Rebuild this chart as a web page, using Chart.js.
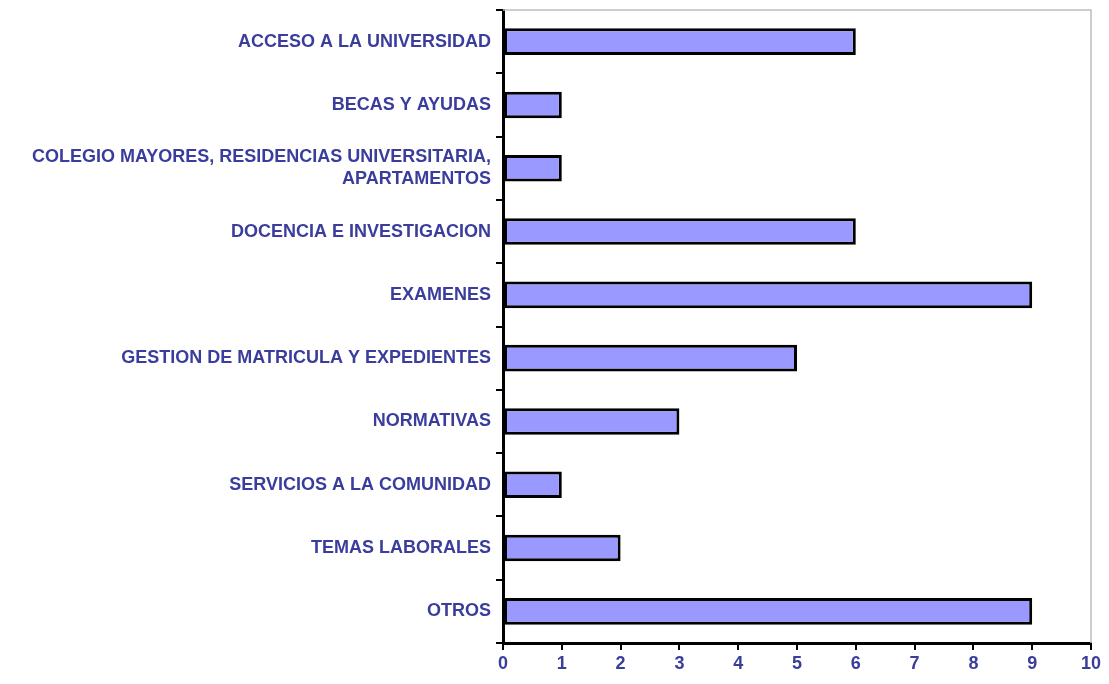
<!DOCTYPE html>
<html>
<head>
<meta charset="utf-8">
<script src="https://cdn.jsdelivr.net/npm/chart.js@4/dist/chart.umd.min.js"></script>
<style>
  html, body { margin: 0; padding: 0; background: #fff; }
  #wrap { width: 1109px; height: 684px; }
</style>
</head>
<body>
<div id="wrap"><canvas id="myChart"></canvas></div>
<script>
// consultas por tema
const categories = [
    'ACCESO A LA UNIVERSIDAD',
    'BECAS Y AYUDAS',
    ['COLEGIO MAYORES, RESIDENCIAS UNIVERSITARIA,', 'APARTAMENTOS'],
    'DOCENCIA E INVESTIGACION',
    'EXAMENES',
    'GESTION DE MATRICULA Y EXPEDIENTES',
    'NORMATIVAS',
    'SERVICIOS A LA COMUNIDAD',
    'TEMAS LABORALES',
    'OTROS'
];
const values = [6, 1, 1, 6, 9, 5, 3, 1, 2, 9];
const xTicks = [0, 1, 2, 3, 4, 5, 6, 7, 8, 9, 10];

const labelColor = '#3a3d9c';
const labelFont = { family: "'Liberation Sans', Arial, sans-serif", size: 18, weight: 'bold' };

// gray frame on top and right of the plot area
const frame = {
    id: 'frame',
    beforeDatasetsDraw(chart) {
        const { ctx, chartArea: a } = chart;
        ctx.save();
        ctx.strokeStyle = '#bdbdbd';
        ctx.lineWidth = 1.5;
        ctx.beginPath();
        ctx.moveTo(a.left, a.top);
        ctx.lineTo(a.right, a.top);
        ctx.lineTo(a.right, a.bottom);
        ctx.stroke();
        ctx.restore();
    }
};

const ctx = document.getElementById('myChart');
const myChart = new Chart(ctx, {
    type: 'bar',
    data: {
        labels: categories,
        datasets: [{
            data: values,
            backgroundColor: '#9999ff',
            borderColor: '#000',
            borderWidth: 3,
            borderSkipped: false,
            barPercentage: 0.42,
            categoryPercentage: 1
        }]
    },
    options: {
        indexAxis: 'y',
        responsive: true,
        maintainAspectRatio: false,
        animation: false,
        layout: { padding: { top: 10, right: 18, left: 0, bottom: 0 } },
        plugins: {
            legend: { display: false },
            tooltip: { enabled: false }
        },
        scales: {
            x: {
                min: 0,
                max: 10,
                afterBuildTicks(scale) {
                    scale.ticks = xTicks.map(v => ({ value: v }));
                },
                afterFit(scale) { scale.height = 41; },
                grid: { drawOnChartArea: false, color: '#000', lineWidth: 2, tickLength: 7 },
                border: { color: '#000', width: 3 },
                ticks: { color: labelColor, font: labelFont, padding: 3 }
            },
            y: {
                afterFit(scale) {
                    scale.width = 503;
                    scale.paddingTop = 0;
                    scale.paddingBottom = 0;
                },
                grid: { drawOnChartArea: false, color: '#000', lineWidth: 2, tickLength: 7, offset: true },
                border: { color: '#000', width: 3 },
                ticks: { color: labelColor, font: labelFont, padding: 5 }
            }
        }
    },
    plugins: [frame]
});
</script>
</body>
</html>
